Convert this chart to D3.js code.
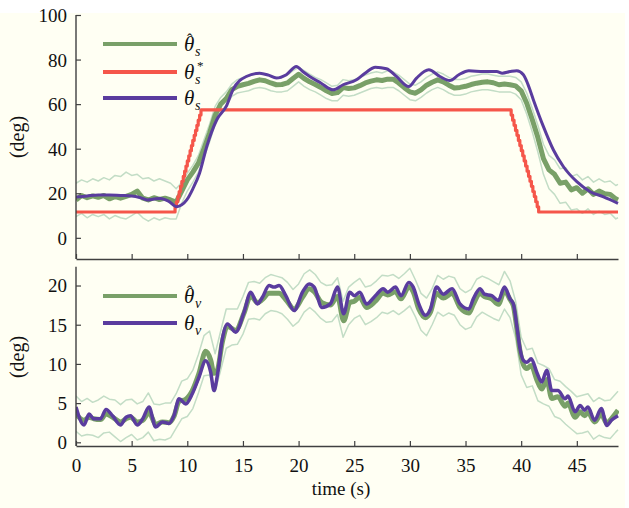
<!DOCTYPE html>
<html><head><meta charset="utf-8">
<script src="https://cdn.jsdelivr.net/npm/d3@7"></script>
<style>body{margin:0;background:#fff}svg{display:block}svg text{font-family:"Liberation Serif","Times New Roman","DejaVu Serif",serif !important;fill:#111}</style>
</head><body><svg id="c" width="629" height="508" style="font-family:'Liberation Serif','Times New Roman',serif"></svg>
<script>
// ---------- DATA ----------
const xTicks = [0,5,10,15,20,25,30,35,40,45];
const topYTicks = [0,20,40,60,80,100];
const botYTicks = [0,5,10,15,20];

// regular time grid (s)
const gridT = [0,0.5,1,1.5,2,2.5,3,3.5,4,4.5,5,5.5,6,6.5,7,7.5,8,8.5,9,9.5,10,10.5,11,11.5,12,12.5,13,13.5,14,14.5,15,15.5,16,16.5,17,17.5,18,18.5,19,19.5,20,20.5,21,21.5,22,22.5,23,23.5,24,24.5,25,25.5,26,26.5,27,27.5,28,28.5,29,29.5,30,30.5,31,31.5,32,32.5,33,33.5,34,34.5,35,35.5,36,36.5,37,37.5,38,38.5,39,39.5,40,40.5,41,41.5,42,42.5,43,43.5,44,44.5,45,45.5,46,46.5,47,47.5,48,48.5,48.7];

// top panel: estimated theta_s (thick green)
const sHat = [17,19,18,18.8,18.2,19,17.5,18.5,17.8,18.6,19.5,21,17.8,17,18,17.2,17.8,17,16,21,26,29.5,33.5,40,47,55,60,62.5,66.5,68,68.7,69.3,70.2,70.9,70.5,69.5,68.7,68.8,69.5,71.5,73.4,71.5,70,68.8,67.5,66,64.8,65.2,67.4,67,67.3,68.3,69.5,70.3,70.9,70.6,71.2,71.2,69.5,67.4,65.5,64.9,66.4,68.5,69.8,70.9,70,68.5,67.2,67.5,68,68.8,69.4,69.8,70,69.6,68.7,69,68.7,68.2,66,60.4,53,45,35.5,30.5,28.5,24.5,25,21.5,22.5,20,22,19.5,21,19.8,19.5,17.5,17];
const sHi = [24.5,26,25,26.5,25.5,27,26,28,27.5,29.5,28,28.5,26.5,27,25.5,26.5,25.5,24.5,22,25,29,32.5,37,44,51,59,63,65.5,69,71,72,72.5,73.5,74,73.5,72.5,72,72,73,75,76.5,75,73.5,72,71,69.5,68,68.5,71,70.5,71,72,73,74,74.5,74,75,74.5,73,71,69,68.5,70,72,73.5,74.5,73.5,72,71,71,71.5,72.5,73,73.5,73.5,73,72.5,72.5,72.5,72,70,65,58,50.5,42,37,35,31,31.5,27.5,28.5,26,27.5,25,26.5,25,25.5,23.5,24];
const sLo = [9.5,11,9,10.5,9.5,10.5,8.5,10,9,8.5,10,11.5,9,7.5,9,8,9,8.5,8.5,15.5,21,25,29.5,36,43,51,56.5,59.5,63.5,65,65.5,66,67,67.5,67,66,65.5,65.5,66,68,70,68,66.5,65.5,64,62.5,61.5,61.5,64,63.5,64,65,66,67,67.5,67,67.5,67.5,66,64,62,61.5,63,65,66.5,67.5,66.5,65,64,64,64.5,65.5,66,66.5,66.5,66,65.5,65.5,65.5,64.5,62,55.5,47.5,38.5,28.5,22,19.5,15.5,16,12.5,13,11,13,10.5,12,10.5,11,8.5,9];

// top panel: reference theta_s* (red, stepped ramps)
const sRefT = [0,8.9,9.02,9.15,9.27,9.39,9.51,9.64,9.76,9.88,10,10.13,10.25,10.37,10.49,10.62,10.74,10.86,10.98,11.11,11.23,11.35,
  39.1,39.23,39.36,39.49,39.62,39.75,39.88,40.01,40.14,40.27,40.4,40.53,40.66,40.79,40.92,41.05,41.18,41.31,41.44,41.57,41.7,48.7];
const sRefV = [11.6,13.9,16.2,18.5,20.8,23.1,25.4,27.6,29.9,32.2,34.5,36.8,39.1,41.4,43.7,46,48.2,50.5,52.8,55.1,57.4,57.4,
  55.1,52.8,50.5,48.2,46,43.7,41.4,39.1,36.8,34.5,32.2,29.9,27.6,25.4,23.1,20.8,18.5,16.2,13.9,11.6,11.6,11.6];

// top panel: actual theta_s (purple)
const sT = [0,1,2,3,4,5,5.8,6.4,7,7.6,8.3,9.05,9.5,9.95,10.5,11.1,11.75,12.65,13.5,14.1,15.3,16.5,17.3,18,18.9,19.8,20.4,21,22,23.1,24,25.2,26,26.9,27.9,28.8,29.9,30.6,31.7,32.7,33.6,34.4,35.3,36.6,37.8,38.3,39,39.6,40.2,40.6,41.1,42,42.9,43.8,45,46.2,47.4,48.7];
const sV = [18.3,18.8,19.2,19.2,19,18.8,18,17,17.4,17.7,16.5,14,14.8,17,22,29,41,53,59,66.4,72.4,73.9,73,71.7,73.2,76.9,74.5,72.4,69.5,66.4,68.7,70.9,74,76.6,75.9,72.4,67.9,71.7,75.4,72.4,70.6,73.2,75,74.6,74.6,73.9,74.6,75,73.2,69,61.9,49.9,39.4,31.9,25.2,20.7,18.4,15.5];

// bottom panel: theta_v (purple) and estimate (green) at the same times
const vT = [0,0.72,1.17,1.6,2.2,2.7,3.3,4,4.5,4.9,5.5,6,6.56,7.16,7.76,8.36,8.8,9.26,9.86,10.45,11.05,11.65,12.1,12.4,12.7,13.15,13.6,14.35,15.1,15.7,16.3,16.75,17.35,17.8,18.25,18.85,19.6,20.35,20.95,21.4,22.1,22.85,23.5,24.05,24.6,25,25.5,26.1,26.9,27.6,28,28.7,29.2,29.9,30.3,30.8,31.4,31.85,32.4,33,33.8,34.5,35.3,35.7,36.3,36.7,37.35,37.95,38.5,39,39.3,39.6,39.9,40.2,40.5,40.9,41.4,41.85,42.3,42.75,43.3,43.95,44.2,44.85,45.3,45.7,46,46.6,47.2,47.7,48.1,48.7];
const vV = [4.5,2.2,3.6,3,3,4.2,3.35,2.2,3.2,3.4,2.2,3,4.5,1.95,2.6,2.4,3.4,5.55,4.9,6.2,8.3,10.4,8.95,6.6,8.5,13.2,15.1,14.05,16.6,19.15,17.65,18.5,20,19.8,20,18.7,16.8,19.15,20.2,19.8,17.2,17.65,19.8,16.4,19.15,18.7,19.15,17.65,18.7,19.6,19.15,19.8,18.7,20.4,19.8,17.65,16.2,17,19.8,18.9,19.6,17.65,17,18.3,19.6,18.9,18.7,18.1,19.8,18.3,17.65,14.9,11.9,10.45,10.2,10.65,8.95,7.7,9.2,6.6,6.6,5.55,5.9,3.9,4.7,4.1,4.5,2.8,4.3,2.15,2.8,3.4];
const vHat = [3.6,2.8,3.2,3,2.9,3.6,3.2,2.6,3,3.2,2.6,2.8,3.8,2.3,2.6,2.5,3.3,5.2,5.5,6.6,8.8,11.6,10.5,8.8,9.2,12.8,14.8,14.3,16.5,18.7,17.8,18.2,19,19,19,18.2,17,18.5,19.6,19.2,17.8,17.5,18.6,15.5,17.8,18,18.5,17.2,18,19,18.8,19.2,18.3,19.8,19.2,17,15.9,16.6,19,18.4,19,17.2,16.5,17.6,19,18.6,18.3,17.6,19.3,18.2,17.4,14.6,11.6,9.9,9.4,9.8,8,6.8,8,5.6,5.8,4.6,5,3.2,3.9,3.4,3.8,2.6,3.6,2.4,3,4.1];
// bottom panel: uncertainty band (light green), on gridT
const vHi = [5.9,5.2,5.6,5.1,5.4,5.9,5.5,5.4,4.8,5.4,5.5,4.9,5.2,6.3,4.9,4.8,5,5,6.2,7.8,8.1,9.2,11.2,13.6,14.2,11.3,14.2,17,17,17,18.6,20.4,20.5,20.3,21,21.4,21.2,21,20.4,19.5,20.2,21.5,22,21.4,20.4,20,20.1,21,18,19.8,20.4,20.9,19.8,20,20.6,21.3,21.2,21.4,20.9,21.5,22.2,20.7,19,18.4,19.6,21.3,20.8,21.2,21,19.6,19.1,19.5,20.8,21.2,20.9,20.5,20.1,21.8,20.6,18,13.4,11.8,12,10.1,9.8,9.4,8,7.8,7.1,6.5,5.8,6,6.2,5.2,5.7,5.3,5.4,6.2,6.5];
const vLo = [1.4,0.8,1,0.9,0.6,1.2,1.3,0.7,0.1,0.6,1,0.3,0.6,1.3,0.2,0.4,0.3,0.6,1.8,3,3.3,4.3,6.3,8.5,8.6,6.5,9.2,12,12.4,12.5,13.8,15.7,15.8,15.6,16.4,16.8,16.7,16.4,15.7,14.8,15.4,16.6,17.2,16.6,15.8,15.3,15.4,16.3,13.4,15,15.8,16.2,15,15.4,15.9,16.6,16.4,16.8,16.3,16.8,17.4,16,14.3,13.6,15,16.6,16.1,16.5,16.2,15,14.4,14.7,16,16.6,16.2,15.8,15.5,17,15.9,13.3,8.6,7,7.2,5.3,4.9,4.6,3.3,3,2.3,1.7,1.1,1.2,1.4,0.4,0.9,0.6,0.5,1.3,1.6];

// ---------- STYLE ----------
const FONT = "'Liberation Serif','Times New Roman','DejaVu Serif',serif";
const C = {green:"#79a068", band:"#c3ddc6", red:"#f5564a", purple:"#5a3c9e", axis:"#404040", bg:"#fffff3"};

const svg = d3.select("#c");
svg.append("rect").attr("x",0).attr("y",13).attr("width",625).attr("height",495).attr("fill",C.bg);

const x = d3.scaleLinear().domain([0,48.7]).range([76,618]);
const yTop = d3.scaleLinear().domain([-9.5,100]).range([259,15]);
const yBot = d3.scaleLinear().domain([-0.47,22.4]).range([446,266.7]);

function line(ts, vs, y, curve){
  return d3.line().x((d,i)=>x(ts[i])).y(d=>y(d)).curve(curve||d3.curveLinear)(vs);
}
function draw(g, ts, vs, y, color, w, curve){
  g.append("path").attr("d", line(ts,vs,y,curve)).attr("fill","none")
   .attr("stroke",color).attr("stroke-width",w).attr("stroke-linejoin","round").attr("stroke-linecap","butt");
}

const defs = svg.append("defs");
defs.append("clipPath").attr("id","cpT").append("rect").attr("x",76).attr("y",13).attr("width",543).attr("height",246);
defs.append("clipPath").attr("id","cpB").append("rect").attr("x",76).attr("y",262).attr("width",543).attr("height",184);

// ---- top panel ----
const gT = svg.append("g").attr("clip-path","url(#cpT)");
draw(gT, gridT, sHi, yTop, C.band, 1.5);
draw(gT, gridT, sLo, yTop, C.band, 1.5);
draw(gT, gridT, sHat, yTop, C.green, 5);
draw(gT, sRefT, sRefV, yTop, C.red, 3.2, d3.curveStepAfter);
draw(gT, sT, sV, yTop, C.purple, 3, d3.curveMonotoneX);

// ---- bottom panel ----
const gB = svg.append("g").attr("clip-path","url(#cpB)");
draw(gB, gridT, vHi, yBot, C.band, 1.5);
draw(gB, gridT, vLo, yBot, C.band, 1.5);
draw(gB, vT, vHat, yBot, C.green, 5, d3.curveMonotoneX);
draw(gB, vT, vV, yBot, C.purple, 3.5, d3.curveMonotoneX);

// ---- axes ----
function styleAxis(g){
  g.attr("font-family", FONT);
  g.selectAll(".domain").attr("stroke",C.axis).attr("stroke-width",1.4);
  g.selectAll(".tick line").attr("stroke",C.axis).attr("stroke-width",1.2);
  g.selectAll(".tick text").style("font-family",FONT).attr("font-size",19).attr("fill","#111");
}
const axTX = svg.append("g").attr("transform","translate(0,259)")
  .call(d3.axisTop(x).tickValues(xTicks).tickSize(5).tickSizeOuter(0).tickFormat(""));
styleAxis(axTX);
const axBX = svg.append("g").attr("transform","translate(0,446)")
  .call(d3.axisTop(x).tickValues(xTicks).tickSize(5).tickSizeOuter(0));
styleAxis(axBX);
axBX.selectAll(".tick text").attr("y",26).attr("dy",0);
const axTY = svg.append("g").attr("transform","translate(76,0)")
  .call(d3.axisRight(yTop).tickValues(topYTicks).tickSize(5).tickSizeOuter(0));
styleAxis(axTY);
axTY.select(".domain").attr("d","M0,"+yTop(100)+"V259");
axTY.selectAll(".tick text").attr("x",-9).attr("text-anchor","end").attr("dy","0.34em");
const axBY = svg.append("g").attr("transform","translate(76,0)")
  .call(d3.axisRight(yBot).tickValues(botYTicks).tickSize(5).tickSizeOuter(0));
styleAxis(axBY);
axBY.select(".domain").attr("d","M0,266.7V446");
axBY.selectAll(".tick text").attr("x",-9).attr("text-anchor","end").attr("dy","0.34em");

function txt(){ return svg.append("text").style("font-family",FONT).attr("fill","#111"); }
txt().attr("transform","translate(24,137) rotate(-90)").attr("text-anchor","middle").attr("font-size",20).text("(deg)");
txt().attr("transform","translate(24,357) rotate(-90)").attr("text-anchor","middle").attr("font-size",20).text("(deg)");
txt().attr("x",341).attr("y",495).attr("text-anchor","middle").attr("font-size",19).text("time (s)");

// ---- legends ----
function legendItem(ly, color, sub, hat, star){
  svg.append("line").attr("x1",103).attr("x2",177).attr("y1",ly).attr("y2",ly).attr("stroke",color).attr("stroke-width",4);
  const t = txt().attr("font-size",21);
  t.append("tspan").attr("x",184).attr("y",ly+7).attr("font-style","italic").text("θ");
  if(hat) t.append("tspan").attr("x",187).attr("y",ly+1).attr("font-size",16).text("ˆ");
  t.append("tspan").attr("x",195).attr("y",ly+12).attr("font-size",14).attr("font-style","italic").text(sub);
  if(star) t.append("tspan").attr("x",197).attr("y",ly-2).attr("font-size",13).text("*");
}
legendItem(44, C.green, "s", true, false);
legendItem(72, C.red, "s", false, true);
legendItem(98, C.purple, "s", false, false);
legendItem(296, C.green, "v", true, false);
legendItem(323, C.purple, "v", false, false);
</script></body></html>
